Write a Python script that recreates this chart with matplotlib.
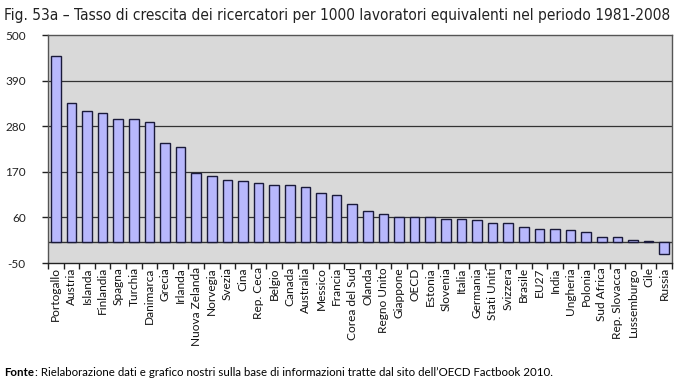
import matplotlib
matplotlib.use("Agg")
import matplotlib.pyplot as plt
import numpy as np

categories = ["Portogallo", "Austria", "Islanda", "Finlandia", "Spagna", "Turchia",
              "Danimarca", "Grecia", "Irlanda", "Nuova Zelanda", "Norvegia", "Svezia",
              "Cina", "Rep. Ceca", "Belgio", "Canada", "Australia", "Messico", "Francia",
              "Corea del Sud", "Olanda", "Regno Unito", "Giappone", "OECD", "Estonia",
              "Slovenia", "Italia", "Germania", "Stati Uniti", "Svizzera", "Brasile",
              "EU27", "India", "Ungheria", "Polonia", "Sud Africa", "Rep. Slovacca",
              "Lussemburgo", "Cile", "Russia"]
values = [449, 335, 316, 313, 297, 297, 290, 239, 230, 167, 161, 150,
          147, 142, 138, 137, 134, 118, 114, 92, 75, 67, 62, 62, 60,
          57, 57, 53, 46, 46, 38, 31, 31, 29, 24, 13, 13, 5, 3, -29]
yticks = [-50, 60, 170, 280, 390, 500]

title = "Fig. 53a \u2013 Tasso di crescita dei ricercatori per 1000 lavoratori equivalenti nel periodo 1981-2008"

fig = plt.figure(figsize=(6.78, 3.84), dpi=100)
ax = fig.add_axes([48/678, (384-263)/384, (672-48)/678, (263-35)/384])
ax.set_facecolor("#d9d9d9")

x = np.arange(len(categories))
ax.bar(x, values, width=0.62, color="#b8b8fc", edgecolor="#1a1a3a", linewidth=1.0, zorder=3)

ax.set_xlim(-0.5, len(categories) - 0.5)
ax.set_ylim(-50, 500)
ax.set_yticks(yticks)
ax.set_yticklabels([str(v) for v in yticks], fontsize=8.5, family="Lato", color="#222222")
for v in yticks[1:-1]:
    ax.axhline(v, color="#333333", linewidth=0.9, zorder=1)
ax.axhline(0, color="#333333", linewidth=1.0, zorder=2)

ax.set_xticks(x)
ax.set_xticklabels(categories, rotation=90, fontsize=8.6, family="Lato", color="#111111")
ax.set_xticks(np.arange(len(categories) + 1) - 0.5, minor=True)
ax.tick_params(axis="x", which="major", length=0, pad=3)
ax.tick_params(axis="x", which="minor", length=4, width=1, color="#222222")
ax.tick_params(axis="y", length=4, width=1, color="#222222", pad=12)

for s in ax.spines.values():
    s.set_color("#555555")
    s.set_linewidth(1.0)
ax.spines["bottom"].set_color("#222222")

fig.text(0.006, 0.96, title, fontsize=11.1, family="DejaVu Sans", fontstretch="condensed",
         color="#222222", va="center", ha="left")

fig.text(0.006, 0.03, "Fonte", fontsize=8.3, family="Lato", weight="bold", va="center", ha="left")
fig.text(0.006 + 31/678, 0.03, ": Rielaborazione dati e grafico nostri sulla base di informazioni tratte dal sito dell\u2019OECD Factbook 2010.",
         fontsize=8.3, family="Lato", va="center", ha="left")

fig.savefig("out.png", dpi=100)
